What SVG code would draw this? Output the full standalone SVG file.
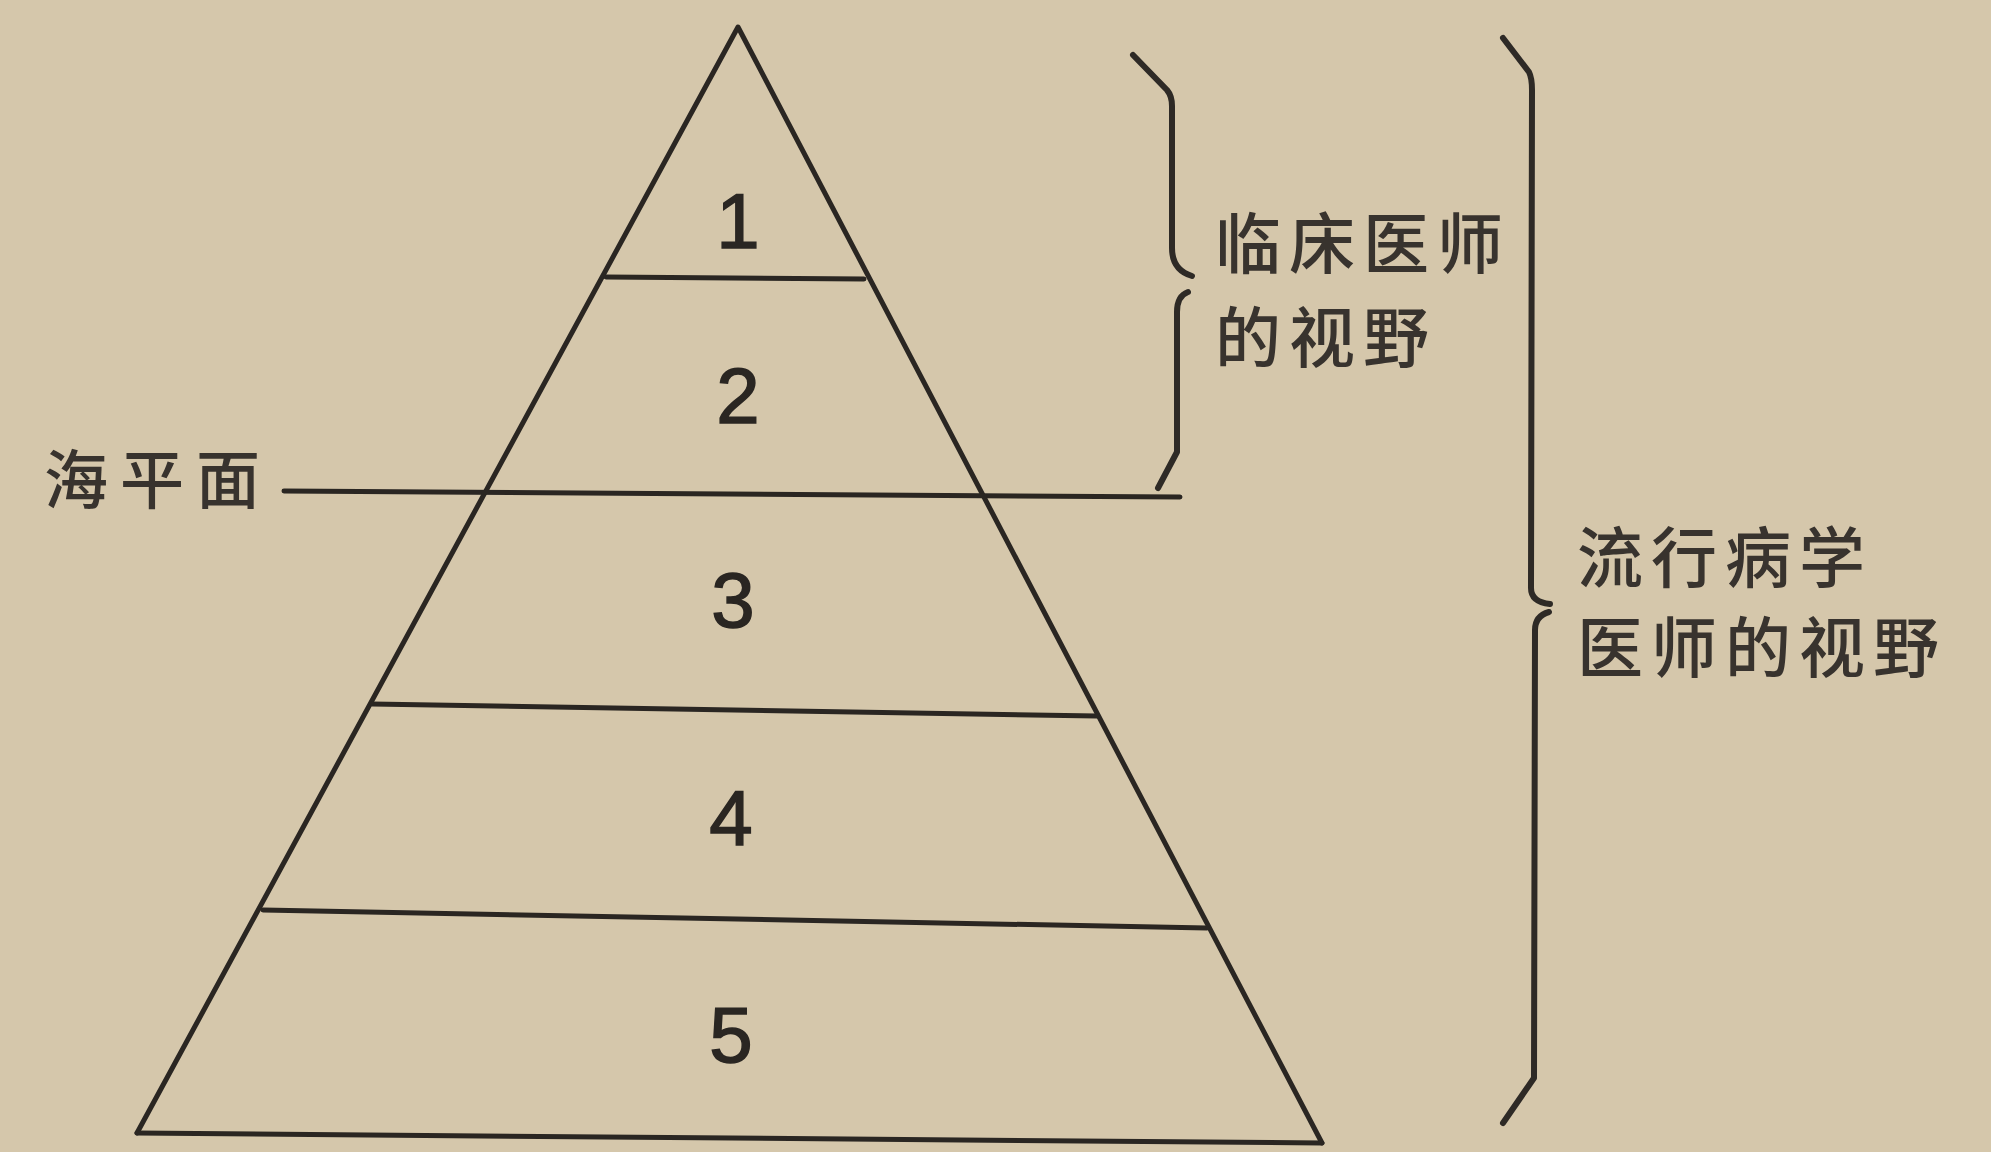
<svg xmlns="http://www.w3.org/2000/svg" width="1991" height="1152" viewBox="0 0 1991 1152">
<style>
.ln{stroke:#2a2622;stroke-width:5;fill:none;stroke-linecap:round;stroke-linejoin:round}
.br{stroke:#2e2a26;stroke-width:6;fill:none;stroke-linecap:round;stroke-linejoin:round}
.num{font-family:"Liberation Sans","DejaVu Sans",sans-serif;font-size:78px;fill:#2a2622;text-anchor:middle;stroke:#2a2622;stroke-width:1.5}
.cjk{font-family:"Noto Sans CJK SC","Noto Sans CJK TC",sans-serif;font-size:66px;font-weight:500;fill:#38332e;letter-spacing:8px}
</style>
<rect width="1991" height="1152" fill="#d5c7ab"/>
<g id="pyramid">
<path class="ln" d="M137,1133 L738,27 L1322,1143"/>
<path class="ln" d="M137,1133 L1322,1143"/>
</g>
<g id="connectors">
<path class="ln" d="M606,277 L864,279"/>
<path class="ln" d="M284,491 L1180,497"/>
<path class="ln" d="M372,704 L1097,716"/>
<path class="ln" d="M263,910 L1207,928"/>
</g>
<g id="layer1"><text class="num" x="738" y="248">1</text></g>
<g id="layer2"><text class="num" x="738" y="423">2</text></g>
<g id="layer3"><text class="num" x="733" y="627">3</text></g>
<g id="layer4"><text class="num" x="731" y="845">4</text></g>
<g id="layer5"><text class="num" x="731" y="1062">5</text></g>
<g id="sea-level"><text class="cjk" x="44" y="503" style="letter-spacing:12px;font-size:64px">海平面</text></g>
<g id="clinician-bracket">
<path class="br" d="M1133,55 L1167,90 Q1172,96 1172,106 L1172,248 Q1172,270 1192,276"/>
<path class="br" d="M1188,292 Q1177,296 1177,312 L1177,452 L1158,488"/>
<text class="cjk" x="1215" y="268">临床医师</text>
<text class="cjk" x="1215" y="362">的视野</text>
</g>
<g id="epidemiologist-bracket">
<path class="br" d="M1503,38 L1529,72 Q1532,78 1532,90 L1531,588 Q1531,602 1550,604"/>
<path class="br" d="M1549,612 Q1535,616 1535,630 L1534,1078 L1503,1123"/>
<text class="cjk" x="1577" y="582">流行病学</text>
<text class="cjk" x="1577" y="672">医师的视野</text>
</g>
</svg>
